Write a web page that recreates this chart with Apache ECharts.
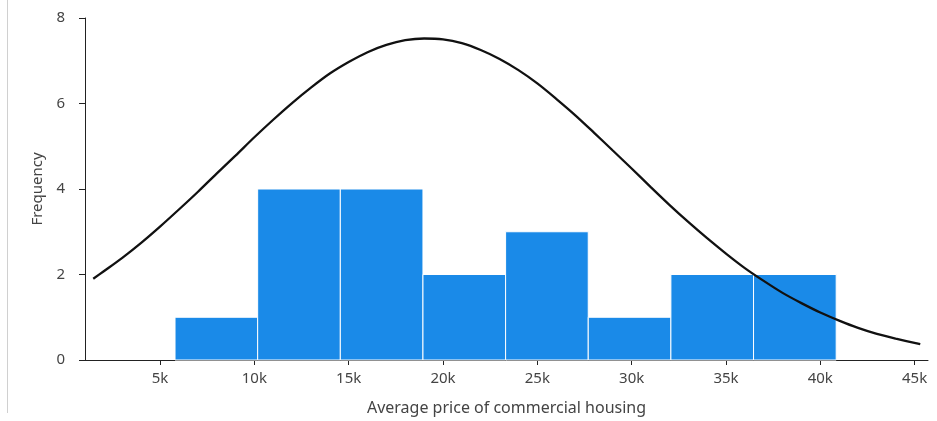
<!DOCTYPE html>
<html>
<head>
<meta charset="utf-8">
<script src="https://cdn.jsdelivr.net/npm/echarts@6/dist/echarts.min.js"></script>
<style>
  html, body { margin: 0; padding: 0; background: #fff; }
  #chart { width: 937px; height: 421px; }
</style>
</head>
<body>
<div id="chart"></div>
<script>
// Histogram bins: edges of each price band and how many cities fall in it
const binEdges = [5795, 10176, 14557, 18938, 23319, 27700, 32081, 36462, 40843];
const binCounts = [1, 4, 4, 2, 3, 1, 2, 2];

// Fitted density curve, sampled along the price axis
const curveX = [1460, 2000, 3000, 4000, 5000, 6000, 7000, 8000, 9000, 10000, 11000, 12000,
  13000, 14000, 15000, 16000, 17000, 18000, 19000, 20000, 21000, 22000, 23000, 24000,
  25000, 26000, 27000, 28000, 29000, 30000, 31000, 32000, 33000, 34000, 35000, 36000,
  37000, 38000, 39000, 40000, 41000, 42000, 43000, 44000, 45300];
const curveY = [1.90, 2.07, 2.39, 2.74, 3.12, 3.52, 3.93, 4.36, 4.78, 5.21, 5.62, 6.01,
  6.37, 6.70, 6.97, 7.20, 7.37, 7.48, 7.52, 7.50, 7.41, 7.25, 7.04, 6.78,
  6.47, 6.11, 5.73, 5.32, 4.90, 4.48, 4.05, 3.63, 3.23, 2.85, 2.49, 2.15,
  1.85, 1.57, 1.33, 1.11, 0.92, 0.75, 0.61, 0.50, 0.37];

// Tick labels on the price axis
const xTicks = [5000, 10000, 15000, 20000, 25000, 30000, 35000, 40000, 45000];

const barData = binCounts.map((c, i) => [binEdges[i], binEdges[i + 1], c]);
const lineData = curveX.map((x, i) => [x, curveY[i]]);

const font = '"Noto Sans", sans-serif';
const chart = echarts.init(document.getElementById('chart'));
chart.setOption({
  animation: false,
  grid: { left: 85, right: 9, top: 18, bottom: 61 },
  graphic: [{
    type: 'line',
    shape: { x1: 7.5, y1: 0, x2: 7.5, y2: 413 },
    style: { stroke: '#d0d0d0', lineWidth: 1 }
  }],
  xAxis: {
    type: 'value',
    min: 1023,
    max: 45710,
    name: 'Average price of commercial housing',
    nameLocation: 'middle',
    nameGap: 40,
    nameTextStyle: { color: '#444', fontSize: 16, fontFamily: font },
    splitLine: { show: false },
    axisLine: { lineStyle: { color: '#222', width: 1 } },
    axisTick: { show: true, length: 5, customValues: xTicks, lineStyle: { color: '#222' } },
    axisLabel: {
      customValues: xTicks,
      color: '#444', fontSize: 15, fontFamily: font, margin: 11,
      formatter: v => (v / 1000) + 'k'
    }
  },
  yAxis: {
    type: 'value',
    min: 0,
    max: 8,
    interval: 2,
    name: 'Frequency',
    nameLocation: 'middle',
    nameGap: 40,
    nameTextStyle: { color: '#444', fontSize: 15, fontFamily: font },
    splitLine: { show: false },
    axisLine: { show: true, lineStyle: { color: '#222', width: 1 } },
    axisTick: { show: true, length: 6, lineStyle: { color: '#222' } },
    axisLabel: { color: '#444', fontSize: 15, fontFamily: font, margin: 20 }
  },
  series: [
    {
      type: 'custom',
      data: barData,
      encode: { x: [0, 1], y: 2 },
      renderItem: function (params, api) {
        const p0 = api.coord([api.value(0), api.value(2)]);
        const p1 = api.coord([api.value(1), 0]);
        return {
          type: 'rect',
          shape: { x: p0[0], y: p0[1], width: p1[0] - p0[0], height: p1[1] - p0[1] },
          style: { fill: '#1a8ae8', stroke: '#ffffff', lineWidth: 1 }
        };
      },
      z: 2
    },
    {
      type: 'line',
      data: lineData,
      smooth: 0.3,
      showSymbol: false,
      lineStyle: { color: '#111', width: 2.3 },
      z: 3
    }
  ]
});
</script>
</body>
</html>
